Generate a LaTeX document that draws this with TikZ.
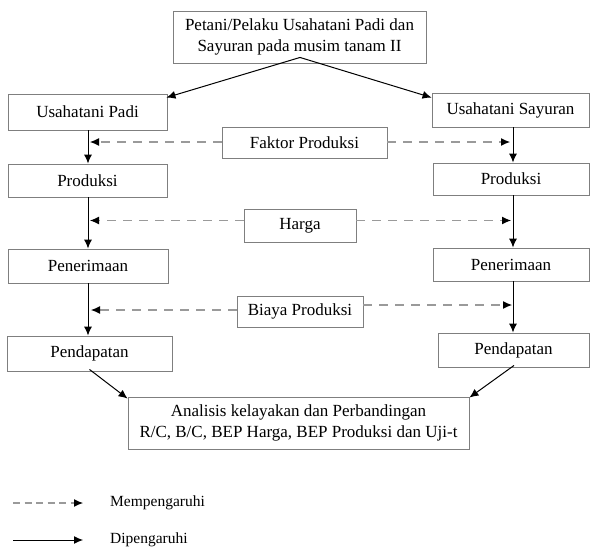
\documentclass[tikz,border=0pt]{standalone}
\usepackage{fontspec}
\setmainfont{Liberation Serif}
\usetikzlibrary{arrows.meta,calc}
\definecolor{boxgray}{HTML}{7F7F7F}
\definecolor{dashgray}{HTML}{9A9A9A}
\begin{document}
\begin{tikzpicture}[x=1pt,y=-1pt,
  box/.style={draw=boxgray,line width=0.9pt,fill=white,inner sep=0pt,align=center,font=\fontsize{17pt}{20.4pt}\selectfont},
  solidarr/.style={draw=black,line width=1pt,-{Latex[length=9pt,width=8pt]}},
  dasharr/.style={draw=dashgray,line width=1.1pt,dash pattern=on 9pt off 7pt,-{Latex[length=9pt,width=8pt,color=black]}},
  legtext/.style={anchor=west,inner sep=0pt,font=\fontsize{15.5pt}{18pt}\selectfont}]
\useasboundingbox (0,0) rectangle (590,547);
\fill[white] (0,0) rectangle (590,547);

% boxes
\node[box,minimum width=253pt,minimum height=52pt] (top) at (299.5,37) {Petani/Pelaku Usahatani Padi dan\\Sayuran pada musim tanam II};
\node[box,minimum width=159pt,minimum height=36pt] (padi) at (87.5,112) {Usahatani Padi};
\node[box,minimum width=157pt,minimum height=34pt] (sayur) at (510.5,110) {Usahatani Sayuran};
\node[box,minimum width=165pt,minimum height=31pt] (faktor) at (304.5,142.5) {Faktor Produksi};
\node[box,minimum width=159pt,minimum height=33pt] (prodL) at (87.5,180.5) {Produksi};
\node[box,minimum width=156pt,minimum height=32pt] (prodR) at (511,179) {Produksi};
\node[box,minimum width=112pt,minimum height=33pt] (harga) at (300,225.5) {Harga};
\node[box,minimum width=160pt,minimum height=34pt] (penL) at (88,266) {Penerimaan};
\node[box,minimum width=156pt,minimum height=33pt] (penR) at (511,264.5) {Penerimaan};
\node[box,minimum width=126pt,minimum height=31pt] (biaya) at (300,311.5) {Biaya Produksi};
\node[box,minimum width=165pt,minimum height=35pt] (pendL) at (89.5,353.5) {Pendapatan};
\node[box,minimum width=151pt,minimum height=34pt] (pendR) at (513.5,350) {Pendapatan};
\node[box,minimum width=341pt,minimum height=52pt] (bottom) at (298.5,423) {Analisis kelayakan dan Perbandingan\\R/C, B/C, BEP Harga, BEP Produksi dan Uji-t};

% helper coordinates
\coordinate (cL) at (88,0);
\coordinate (cR) at (513,0);
\coordinate (yf) at (0,142);
\coordinate (yh) at (0,220.5);
\coordinate (ybl) at (0,310);
\coordinate (ybr) at (0,305);

% top split
\coordinate (topsrc) at ($(top.south)+(0.5,-6)$);
\draw[solidarr] (topsrc) -- ($(padi.north east)+(-1,4)$);
\draw[solidarr] (topsrc) -- ($(sayur.north west)+(0,5)$);

% left column
\draw[solidarr] (padi.south -| cL) -- (prodL.north -| cL);
\draw[solidarr] (prodL.south -| cL) -- (penL.north -| cL);
\draw[solidarr] (penL.south -| cL) -- (pendL.north -| cL);
% right column
\draw[solidarr] (sayur.south -| cR) -- (prodR.north -| cR);
\draw[solidarr] (prodR.south -| cR) -- (penR.north -| cR);
\draw[solidarr] (penR.south -| cR) -- (pendR.north -| cR);

% dashed influences
\draw[dasharr] (faktor.west |- yf) -- ($(cL |- yf)+(2,0)$);
\draw[dasharr] (faktor.east |- yf) -- ($(cR |- yf)+(-3,0)$);
\draw[dasharr] (harga.west |- yh) -- ($(cL |- yh)+(2,0)$);
\draw[dasharr] (harga.east |- yh) -- ($(cR |- yh)+(-2,0)$);
\draw[dasharr] (biaya.west |- ybl) -- ($(cL |- ybl)+(3,0)$);
\draw[dasharr] (biaya.east |- ybr) -- ($(cR |- ybr)+(-1,0)$);

% to bottom
\draw[solidarr] ($(pendL.south)+(0,-2)$) -- ($(bottom.north west)+(0,2)$);
\draw[solidarr] ($(pendR.south)+(0.5,-2)$) -- ($(bottom.north east)+(0,1)$);

% legend
\coordinate (l1a) at (13,503);
\coordinate (l1b) at (83,503);
\coordinate (l2a) at (13,540);
\coordinate (l2b) at (83,540);
\draw[dasharr,dash pattern=on 7pt off 4.5pt] (l1a) -- (l1b);
\draw[solidarr] (l2a) -- (l2b);
\node[legtext] (leg1) at (110,503) {Mempengaruhi};
\node[legtext] (leg2) at (110,540) {Dipengaruhi};
\end{tikzpicture}
\end{document}
